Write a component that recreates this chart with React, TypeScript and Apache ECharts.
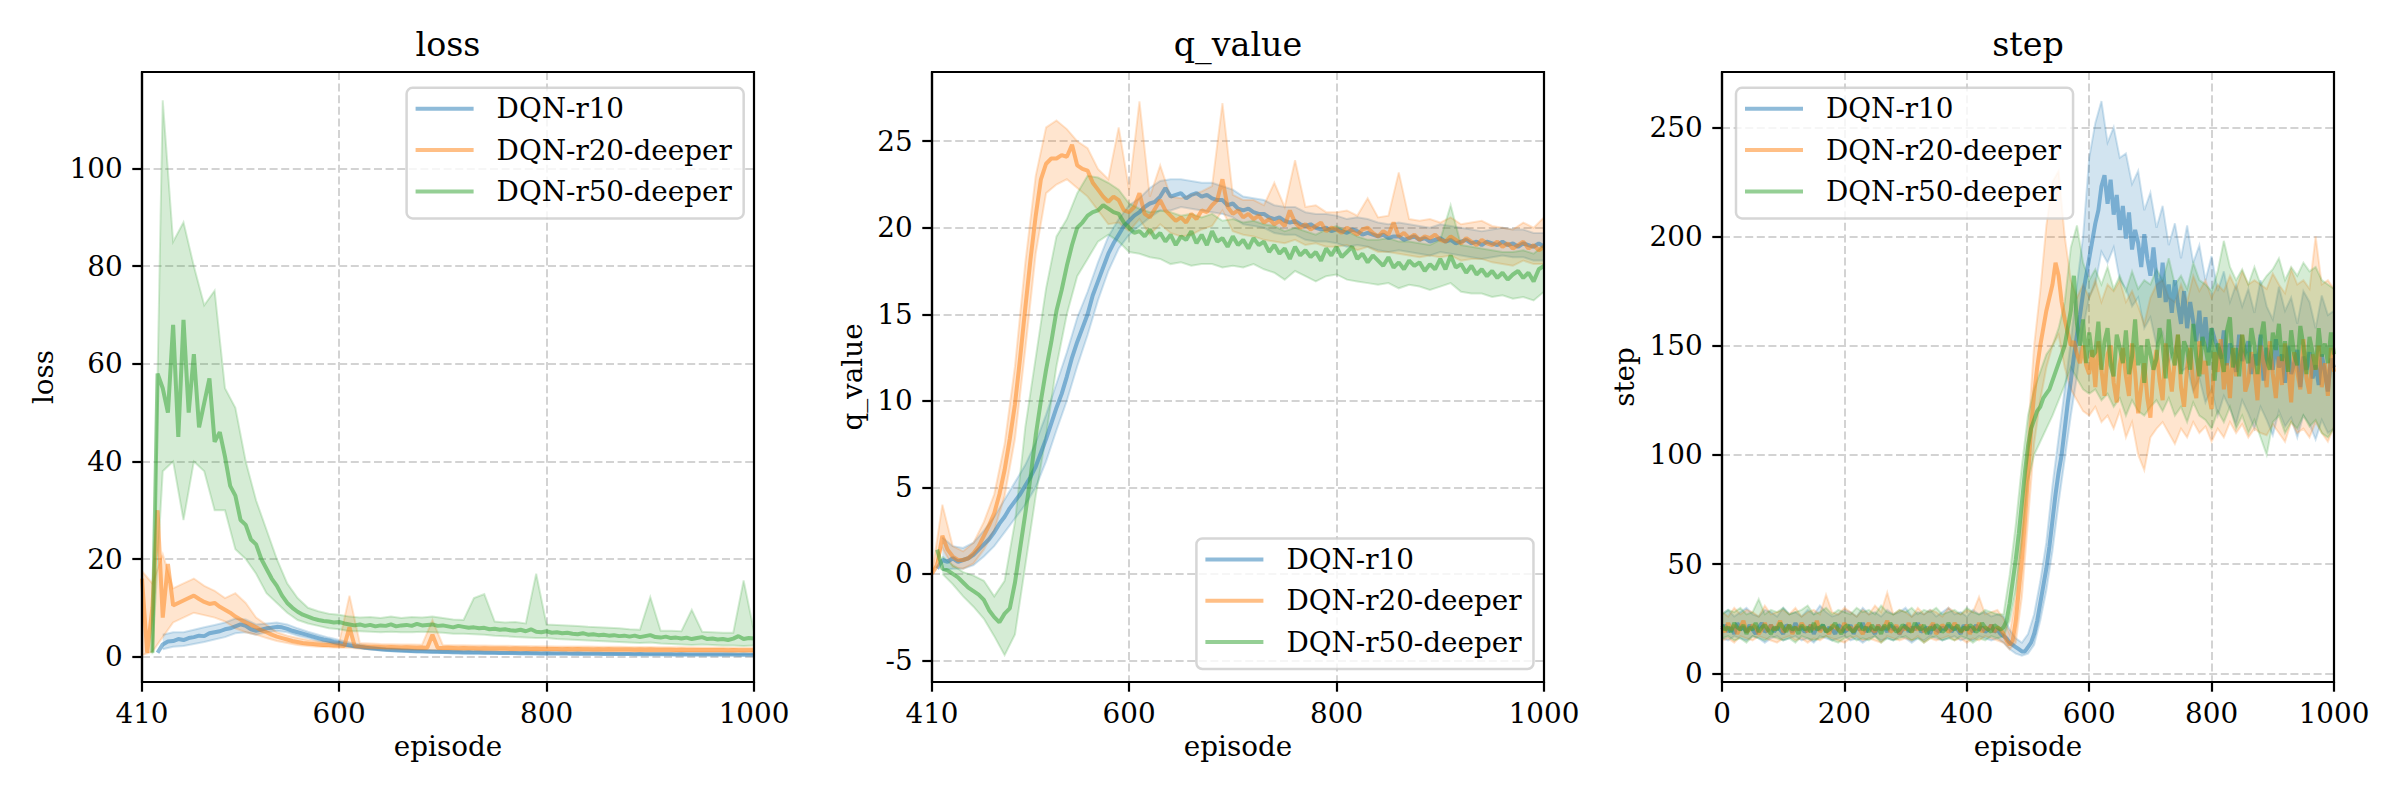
import React, { useEffect, useRef } from 'react';
import * as echarts from 'echarts';

const FONT = '"DejaVu Serif", serif';
const NAMES = ['DQN-r10', 'DQN-r20-deeper', 'DQN-r50-deeper'];
const COLORS = ['#1f77b4', '#ff7f0e', '#2ca02c'];

// episode grids (mean sampled every 5 episodes, band every 10 episodes)
const episodes = (start: number, end: number, step: number) => {
  const out: number[] = [];
  for (let e = start; e <= end; e += step) out.push(e);
  return out;
};
const LOSS_MEAN_X = episodes(410, 1000, 5);
const LOSS_BAND_X = episodes(410, 1000, 10);
const Q_MEAN_X = episodes(410, 1000, 5);
const Q_BAND_X = episodes(410, 1000, 10);
const STEP_MEAN_X = episodes(0, 1000, 5);
const STEP_BAND_X = episodes(0, 1000, 10);

// ---------------- loss ----------------
const LOSS_BLUE = [
  null, null, null, 0.8, 2.5, 3.1, 3.2, 3.6, 3.4, 3.8,
  4.0, 4.3, 4.2, 4.8, 5.0, 5.2, 5.6, 5.8, 6.2, 6.6,
  6.3, 5.6, 5.3, 5.5, 5.8, 5.9, 6.1, 6.0, 5.7, 5.3,
  5.0, 4.7, 4.4, 4.1, 3.8, 3.5, 3.3, 3.0, 2.8, 2.5,
  2.3, 2.1, 2.0, 1.8, 1.7, 1.6, 1.5, 1.4, 1.35, 1.3,
  1.25, 1.2, 1.15, 1.1, 1.1, 1.05, 1.0, 1.0, 0.95, 0.95,
  0.9, 0.9, 0.85, 0.88, 0.82, 0.85, 0.8, 0.78, 0.8, 0.75,
  0.76, 0.72, 0.74, 0.7, 0.72, 0.68, 0.7, 0.66, 0.68, 0.65,
  0.64, 0.66, 0.62, 0.6, 0.62, 0.58, 0.6, 0.57, 0.58, 0.55,
  0.56, 0.54, 0.55, 0.52, 0.53, 0.5, 0.52, 0.49, 0.5, 0.48,
  0.49, 0.47, 0.48, 0.46, 0.47, 0.45, 0.46, 0.44, 0.45, 0.43,
  0.44, 0.42, 0.43, 0.41, 0.42, 0.4, 0.41, 0.4, 0.4,
];
const LOSS_ORANGE = [
  16, 0.8, 10, 30, 8, 19, 10.5, 11, 11.5, 12,
  12.5, 11.8, 11.2, 10.8, 11, 10.2, 9.6, 9.0, 8.2, 7.6,
  7.0, 6.5, 6.0, 5.4, 5.0, 4.5, 4.1, 3.8, 3.5, 3.2,
  3.0, 2.8, 2.7, 2.6, 2.5, 2.4, 2.4, 2.3, 2.3, 2.2,
  6.0, 2.2, 2.1, 2.05, 2.0, 2.0, 1.95, 1.9, 1.95, 1.9,
  1.85, 1.9, 1.85, 1.8, 1.85, 1.8, 4.5, 1.8, 1.75, 1.8,
  1.75, 1.7, 1.75, 1.7, 1.72, 1.68, 1.7, 1.65, 1.68, 1.64,
  1.66, 1.62, 1.65, 1.6, 1.62, 1.58, 1.6, 1.56, 1.58, 1.55,
  1.56, 1.53, 1.55, 1.52, 1.54, 1.5, 1.52, 1.48, 1.5, 1.47,
  1.49, 1.45, 1.47, 1.44, 1.46, 1.43, 1.45, 1.42, 1.44, 1.41,
  1.42, 1.4, 1.41, 1.38, 1.4, 1.37, 1.38, 1.36, 1.37, 1.35,
  1.36, 1.34, 1.35, 1.33, 1.34, 1.32, 1.33, 1.31, 1.3,
];
const LOSS_GREEN = [
  null, null, 0.8, 58, 55, 50, 68, 45, 69, 50,
  62, 47, 52, 57, 44, 46, 41, 35, 33, 28,
  27, 24, 23, 20, 18, 16, 14.5, 12.5, 11, 10,
  9.2, 8.6, 8.2, 7.8, 7.5, 7.3, 7.2, 7.0, 7.1, 6.8,
  6.6, 6.4, 6.6, 6.3, 6.5, 6.2, 6.4, 6.3, 6.6, 6.2,
  6.4, 6.5, 6.3, 6.7, 6.4, 6.5, 6.6, 6.3, 6.4, 6.2,
  6.0, 6.3, 6.1, 5.9, 6.0, 5.8, 5.9, 5.6, 5.7, 5.5,
  5.6, 5.4, 5.3, 5.5, 5.2, 5.6, 5.1, 5.0, 5.2, 4.9,
  5.0, 4.8, 4.9, 4.7, 4.6, 4.8, 4.5, 4.6, 4.4, 4.5,
  4.3, 4.4, 4.2, 4.3, 4.1, 4.3, 4.0, 4.2, 4.4, 4.0,
  3.9, 4.1, 3.8, 3.9, 3.7, 3.9, 3.6, 3.8, 4.0, 3.6,
  3.7, 3.5, 3.6, 3.4, 3.7, 4.2, 3.6, 3.8, 3.7,
];
const LOSS_BLUE_LO = [
  null, null, 1.5, 2.0, 2.2, 2.6, 3.0, 3.5, 4.0, 4.8, 5.0, 4.5,
  5.0, 5.3, 5.0, 4.3, 3.8, 3.2, 2.8, 2.3, 2.0, 1.7,
  1.45, 1.25, 1.1, 1.0, 0.9, 0.85, 0.78, 0.72, 0.68, 0.64,
  0.6, 0.58, 0.55, 0.53, 0.5, 0.48, 0.46, 0.45, 0.43, 0.42,
  0.4, 0.39, 0.38, 0.36, 0.35, 0.34, 0.33, 0.32, 0.31, 0.3,
  0.3, 0.29, 0.28, 0.28, 0.27, 0.27, 0.26, 0.26,
];
const LOSS_BLUE_HI = [
  null, null, 4.5, 5.0, 5.0, 5.5, 6.0, 6.5, 7.0, 7.8, 7.6, 6.6,
  6.8, 7.0, 6.6, 5.8, 5.1, 4.5, 3.9, 3.4, 2.9, 2.5,
  2.1, 1.85, 1.7, 1.55, 1.45, 1.38, 1.3, 1.22, 1.18, 1.12,
  1.08, 1.05, 1.02, 0.98, 0.96, 0.94, 0.92, 0.9, 0.87, 0.85,
  0.83, 0.81, 0.8, 0.78, 0.76, 0.74, 0.72, 0.71, 0.7, 0.68,
  0.67, 0.66, 0.64, 0.63, 0.62, 0.61, 0.6, 0.58,
];
const LOSS_ORANGE_LO = [
  0.3, 1.0, 4.0, 7.0, 8.0, 9.0, 8.5, 8.0, 7.2, 5.8,
  5.0, 4.5, 3.8, 3.2, 2.8, 2.4, 2.2, 2.0, 1.9, 1.8,
  1.8, 1.6, 1.5, 1.5, 1.45, 1.4, 1.38, 1.35, 1.35, 1.3,
  1.28, 1.26, 1.24, 1.22, 1.2, 1.18, 1.16, 1.14, 1.12, 1.1,
  1.08, 1.07, 1.06, 1.04, 1.03, 1.02, 1.0, 0.99, 0.98, 0.97,
  0.96, 0.95, 0.94, 0.93, 0.92, 0.91, 0.9, 0.9, 0.89, 0.88,
];
const LOSS_ORANGE_HI = [
  17.5, 15, 21, 14, 15, 16, 14.5, 13.5, 12, 13,
  11, 8.0, 6.5, 5.0, 4.3, 3.8, 3.4, 3.1, 3.0, 2.9,
  12.5, 2.8, 2.7, 2.6, 2.55, 2.5, 2.5, 2.45, 7.5, 2.4,
  2.35, 2.35, 2.3, 2.3, 2.25, 2.25, 2.2, 2.2, 2.15, 2.15,
  2.1, 2.1, 2.08, 2.06, 2.04, 2.02, 2.0, 1.98, 1.96, 1.95,
  1.94, 1.92, 1.9, 1.9, 1.88, 1.86, 1.85, 1.84, 1.82, 1.8,
];
const LOSS_GREEN_LO = [
  null, 0.5, 38, 40, 28, 40, 38, 30, 30, 22,
  20, 17, 13, 11, 9, 7.5, 6.8, 6.3, 5.8, 5.6,
  5.2, 5.2, 5.1, 5.0, 5.1, 5.0, 5.0, 5.1, 5.0, 4.9,
  4.7, 4.7, 4.6, 4.5, 4.3, 4.2, 4.0, 3.9, 3.8, 3.8,
  3.6, 3.5, 3.4, 3.3, 3.2, 3.1, 3.0, 2.9, 2.8, 2.9,
  2.7, 2.6, 2.5, 2.4, 2.5, 2.4, 2.3, 2.3, 2.2, 2.3,
];
const LOSS_GREEN_HI = [
  null, 1.0, 114, 85, 89, 80, 72, 75, 55, 51,
  40, 32, 26, 20, 15, 12, 10, 9.3, 8.8, 8.6,
  8.2, 8.0, 8.1, 7.9, 8.2, 7.9, 8.1, 8.0, 8.2, 7.9,
  7.6, 7.5, 12.0, 12.8, 7.2, 7.0, 7.1, 6.8, 17.0, 6.6,
  6.5, 6.4, 6.3, 6.1, 6.0, 5.9, 5.8, 5.6, 5.5, 12.2,
  5.3, 5.3, 5.2, 9.6, 5.1, 5.0, 4.9, 4.9, 15.6, 5.2,
];

// ---------------- q_value ----------------
const Q_BLUE = [
  null, 0.3, 0.8, 0.7, 0.9, 0.7, 0.8, 0.9, 1.1, 1.4,
  1.7, 2.0, 2.4, 2.9, 3.3, 3.8, 4.2, 4.6, 5.1, 5.6,
  6.2, 7.0, 7.8, 8.7, 9.6, 10.4, 11.4, 12.5, 13.4, 14.2,
  15.0, 16.1, 16.9, 17.7, 18.5, 19.1, 19.6, 20.1, 20.4, 20.7,
  20.9, 21.2, 21.4, 21.5, 21.8, 22.3, 21.8, 21.9, 22.0, 21.7,
  21.9, 22.0, 21.8, 21.9, 21.7, 21.6, 21.6, 21.3, 21.4, 21.1,
  21.0, 21.1, 20.9, 20.8, 20.8, 20.6, 20.5, 20.6, 20.4, 20.3,
  20.4, 20.2, 20.1, 20.2, 20.0, 19.9, 20.0, 19.8, 19.9, 19.8,
  19.7, 19.9, 19.8, 19.6, 19.7, 19.6, 19.5, 19.6, 19.4, 19.5,
  19.5, 19.3, 19.4, 19.5, 19.3, 19.4, 19.2, 19.3, 19.4, 19.2,
  19.3, 19.1, 19.2, 19.3, 19.1, 19.2, 19.0, 19.2, 19.1, 19.0,
  19.2, 19.0, 19.1, 18.9, 19.1, 19.0, 18.9, 19.1, 18.9,
];
const Q_ORANGE = [
  0, 0.5, 2.2, 1.4, 1.0, 0.8, 0.8, 0.9, 1.2, 1.6,
  2.2, 2.8, 3.5, 4.6, 6.0, 7.8, 9.8, 12.5, 15.4, 18.2,
  20.7, 22.8, 23.7, 24.0, 24.0, 24.2, 24.1, 24.8, 23.6, 23.4,
  23.3, 22.6, 22.2, 21.8, 21.5, 21.8, 21.6, 21.0, 20.9, 21.2,
  22.0, 20.8, 20.6, 21.1, 21.6, 21.0, 20.7, 20.4, 20.6, 20.3,
  20.8, 20.5, 21.0, 20.9, 21.3, 21.6, 22.8, 21.2, 20.8, 21.0,
  20.6, 20.8, 20.5, 20.7, 20.3, 20.5, 20.2, 20.4, 20.1, 21.0,
  20.3, 20.0, 20.2, 19.9, 20.1, 20.3, 19.8, 20.0, 19.9, 19.7,
  20.0, 19.8, 19.6, 19.9, 20.0, 19.7, 19.5, 19.8, 19.6, 20.3,
  19.5, 19.7, 19.4, 19.6, 19.3, 19.5, 19.4, 19.6, 19.3, 19.2,
  19.5, 19.3, 19.1, 19.4, 19.2, 19.0, 19.3, 19.1, 19.0, 19.2,
  18.9, 19.1, 18.8, 19.0, 19.2, 18.8, 19.0, 18.7, 18.9,
];
const Q_GREEN = [
  null, 1.4, 0.3, 0.2, 0.0, -0.2, -0.5, -0.8, -1.0, -1.2,
  -1.5, -2.1, -2.5, -2.8, -2.3, -2.0, -0.5, 1.5, 3.5, 5.6,
  8.0, 10.0, 11.8, 13.4, 15.2, 16.4, 17.8, 19.0, 20.0, 20.3,
  20.7, 20.9, 21.0, 21.3, 21.1, 20.9, 20.8, 20.3, 20.0, 19.7,
  19.8, 19.5, 19.9, 19.4, 19.7, 19.2, 19.6, 19.0, 19.5, 19.3,
  19.8, 19.1, 19.6, 19.0, 19.8, 19.2, 19.4, 18.9, 19.5, 19.0,
  19.3, 18.8, 19.4, 19.0, 19.2, 18.6, 19.0, 18.5, 18.8, 18.2,
  18.9, 18.4, 18.7, 18.3, 18.6, 18.1, 18.8, 18.4, 18.9, 18.3,
  18.6, 18.9, 18.2, 18.5, 18.0, 18.4, 18.1, 17.8, 18.3, 17.7,
  18.0, 17.6, 18.1, 17.8, 18.0, 17.5, 17.9, 17.6, 18.2, 17.6,
  18.4, 17.7, 17.9, 17.4, 17.8, 17.3, 17.6, 17.2, 17.5, 17.1,
  17.4, 17.0, 17.3, 17.5, 17.1, 17.4, 16.9, 17.6, 17.8,
];
const Q_BLUE_LO = [
  null, 0.2, 0.3, 0.3, 0.5, 1.0, 1.6, 2.4, 3.2, 4.0,
  5.0, 6.5, 8.3, 10.0, 12.0, 13.8, 15.8, 17.5, 18.8, 19.6,
  20.1, 20.6, 21.0, 21.0, 21.2, 21.1, 21.0, 20.9, 20.8, 20.6,
  20.2, 20.1, 20.0, 19.7, 19.6, 19.6, 19.3, 19.2, 19.2, 19.1,
  18.9, 19.0, 18.9, 18.7, 18.6, 18.7, 18.6, 18.5, 18.4, 18.6,
  18.5, 18.4, 18.3, 18.2, 18.3, 18.4, 18.3, 18.3, 18.1, 18.1,
];
const Q_BLUE_HI = [
  null, 2.1, 1.6, 1.5, 1.8, 2.5, 3.3, 4.3, 5.3, 6.3,
  7.6, 9.2, 11.0, 12.8, 14.8, 16.3, 18.0, 19.5, 20.5, 21.3,
  21.7, 22.3, 22.7, 22.8, 22.8, 22.7, 22.6, 22.6, 22.4, 22.2,
  21.8, 21.7, 21.6, 21.3, 21.2, 21.2, 20.9, 20.8, 20.8, 20.7,
  20.5, 20.6, 20.5, 20.3, 20.2, 20.3, 20.2, 20.1, 20.0, 20.2,
  20.1, 20.0, 19.9, 19.8, 19.9, 20.0, 19.9, 19.9, 19.7, 19.7,
];
const Q_ORANGE_LO = [
  0, 1.5, 0.4, 0.3, 0.6, 1.4, 2.5, 4.5, 7.8, 13,
  18.5, 22, 22.5, 22.8, 22.3, 21.8, 21, 20.2, 20.3, 19.8,
  20.5, 19.6, 20.2, 19.7, 19.5, 19.6, 19.9, 20.1, 21, 19.8,
  19.6, 19.5, 19.3, 19.2, 19.1, 19.3, 19.0, 19.1, 18.9, 18.9,
  19.0, 18.7, 18.9, 18.6, 18.6, 18.5, 18.4, 18.3, 18.4, 18.3,
  18.4, 18.1, 18.2, 18.2, 18.0, 17.9, 17.8, 18.1, 17.9, 17.9,
];
const Q_ORANGE_HI = [
  0, 4.0, 1.6, 1.3, 1.8, 3.0, 4.6, 7.5, 12, 18,
  23, 25.8, 26.2, 25.7, 25, 24.6, 23.4, 22.8, 25.8, 22.2,
  27.3, 21.8, 23.6, 21.8, 21.7, 21.9, 22.1, 22.4, 27.2, 21.9,
  21.6, 21.6, 21.3, 22.6, 21.2, 23.9, 21.2, 21.3, 20.9, 20.9,
  21.0, 20.7, 21.7, 20.6, 20.7, 23.2, 20.5, 20.4, 20.5, 20.3,
  20.6, 20.2, 20.3, 20.4, 20.1, 20.0, 19.9, 20.3, 20.0, 20.6,
];
const Q_GREEN_LO = [
  null, 0.0, -0.6, -1.3, -1.9, -2.6, -3.6, -4.7, -3.5, 0.5,
  4.5, 8.0, 12.0, 15.0, 17.2, 18.2, 19.2, 19.6, 19.2, 18.6,
  18.5, 18.3, 18.2, 17.9, 18.0, 17.8, 17.9, 17.9, 17.7, 17.8,
  17.7, 17.9, 17.6, 17.4, 17.0, 17.5, 17.2, 16.9, 17.2, 17.3,
  17.0, 16.9, 16.8, 16.7, 16.8, 16.5, 16.7, 16.6, 16.4, 16.6,
  16.8, 16.3, 16.2, 16.2, 16.0, 16.1, 15.9, 16.0, 15.8, 16.3,
];
const Q_GREEN_HI = [
  null, 1.0, 0.5, 0.1, -0.1, -0.4, -1.3, -0.4, 3.0, 8.5,
  12.5, 16.5, 19.5, 20.5, 22.0, 23.0, 22.9, 22.6, 22.2, 21.4,
  21.1, 20.9, 21.0, 20.9, 20.7, 20.8, 20.6, 20.8, 20.4, 20.5,
  20.3, 20.4, 20.2, 20.1, 19.8, 20.0, 19.8, 19.6, 19.9, 20.1,
  19.8, 19.5, 19.3, 19.3, 19.4, 19.2, 19.2, 19.1, 19.0, 19.3,
  21.3, 19.0, 18.9, 18.8, 18.7, 18.6, 18.6, 18.7, 18.5, 19.0,
];

// ---------------- step ----------------
const STEP_BLUE = [
  20, 22, 19, 21, 18, 23, 20, 21, 19, 22, 20, 18, 21, 23, 19, 20, 22, 19, 21, 20,
  18, 22, 21, 19, 23, 20, 21, 19, 20, 22, 18, 21, 20, 22, 19, 21, 20, 18, 22, 21,
  19, 20, 22, 18, 21, 20, 23, 19, 21, 20, 18, 22, 20, 21, 19, 22, 20, 21, 18, 20,
  22, 19, 21, 20, 23, 19, 20, 21, 18, 22, 20, 19, 21, 20, 22, 19, 21, 20, 18, 22,
  20, 21, 19, 22, 20, 21, 19, 20, 22, 19, 20, 18,
  17, 16, 14, 13, 12, 11, 10, 10, 12, 14,
  18, 24, 32, 40, 48, 58, 70, 82, 92, 100,
  112, 124, 134, 145, 155, 164, 174, 182, 190, 198,
  206, 212, 223, 228, 215, 226, 210, 219, 203, 214,
  199, 211, 194, 203, 197, 186, 201, 190, 182, 195,
  181, 172, 188, 170, 178, 165, 180, 169, 160, 175,
  158, 170, 161, 152, 166, 150, 163, 147, 158, 153,
  149, 144, 157, 141, 151, 146, 138, 155, 143, 147,
  152, 137, 146, 141, 155, 134, 149, 143, 139, 153,
  140, 146, 133, 150, 137, 142, 148, 131, 145, 139,
  147, 135, 141, 132, 146, 138, 129, 144, 140,
];
const STEP_ORANGE = [
  21, 19, 23, 20, 22, 18, 21, 24, 19, 20, 22, 21, 18, 20, 23, 19, 22, 20, 21, 24,
  19, 20, 22, 18, 21, 20, 23, 21, 19, 22, 20, 24, 19, 21, 20, 18, 22, 21, 20, 19,
  23, 20, 21, 19, 22, 20, 18, 21, 23, 20, 19, 22, 20, 21, 24, 19, 20, 22, 18, 21,
  20, 23, 19, 21, 20, 22, 19, 20, 21, 23, 18, 20, 22, 21, 19, 20, 23, 21, 19, 20,
  22, 18, 21, 20, 23, 19, 21, 20, 22, 19, 21, 20,
  18, 15, 13, 15, 24, 38, 52, 70, 90, 112,
  128, 140, 150, 158, 166, 172, 178, 188, 182, 170,
  162, 156, 150, 152, 146, 142, 150, 141, 137, 148,
  131, 152, 139, 127, 146, 150, 133, 124, 141, 149,
  136, 127, 151, 138, 119, 131, 142, 126, 117, 139,
  148, 134, 125, 151, 140, 129, 144, 155, 131, 122,
  140, 149, 133, 126, 152, 137, 143, 128, 121, 147,
  138, 153, 130, 142, 126, 149, 136, 144, 155, 129,
  134, 147, 139, 125, 150, 143, 131, 152, 137, 126,
  145, 132, 151, 140, 124, 147, 138, 130, 153, 135,
  128, 146, 139, 150, 131, 142, 127, 149, 138,
];
const STEP_GREEN = [
  22, 20, 21, 19, 23, 21, 20, 22, 18, 21, 20, 23, 19, 21, 22, 20, 18, 21, 20, 23,
  21, 19, 22, 20, 21, 18, 22, 20, 21, 19, 23, 20, 21, 22, 19, 20, 21, 23, 20, 18,
  21, 22, 20, 19, 21, 23, 20, 21, 19, 22, 20, 21, 18, 22, 20, 23, 21, 19, 20, 22,
  21, 20, 19, 23, 21, 20, 22, 18, 21, 20, 22, 21, 19, 20, 23, 21, 20, 22, 19, 21,
  20, 22, 21, 19, 20, 23, 21, 20, 19, 22, 21, 20,
  21, 24, 32, 42, 52, 64, 78, 92, 104, 112,
  116, 120, 122, 126, 128, 130, 134, 138, 142, 146,
  150, 158, 166, 182, 160, 150, 162, 142, 156, 145,
  147, 161, 139, 152, 158, 141, 136, 155, 149, 142,
  157, 137, 145, 162, 141, 150, 133, 153, 146, 139,
  144, 158, 150, 135, 162, 147, 141, 155, 137, 152,
  148, 139, 160, 145, 136, 154, 149, 141, 158, 134,
  151, 146, 138, 157, 163, 140, 149, 136, 155, 147,
  142, 158, 150, 137, 153, 161, 144, 139, 156, 148,
  160, 143, 152, 138, 157, 146, 141, 159, 150, 137,
  154, 147, 139, 158, 145, 151, 142, 156, 146,
];
const STEP_BLUE_LO = [
  16, 15, 17, 16, 15, 17, 16, 14, 16, 17, 15, 16, 17, 15, 16, 14, 17, 16, 15, 16,
  17, 15, 16, 14, 16, 17, 15, 16, 15, 17, 16, 14, 16, 15, 17, 16, 15, 16, 17, 15,
  16, 15, 17, 16, 15, 16,
  14, 11, 9, 8, 9, 13, 24, 38, 56, 78,
  98, 118, 136, 158, 172, 178, 193, 188, 195, 180,
  176, 168, 172, 158, 163, 150, 156, 142, 149, 138,
  140, 129, 135, 124, 130, 118, 127, 121, 114, 125,
  119, 112, 122, 116, 109, 120, 113, 117, 108, 118,
  114, 107, 116, 110, 112,
];
const STEP_BLUE_HI = [
  27, 29, 26, 28, 30, 27, 26, 29, 28, 26, 30, 27, 28, 26, 29, 27, 31, 28, 26, 27,
  29, 28, 26, 30, 27, 28, 26, 29, 27, 28, 30, 26, 28, 27, 29, 26, 28, 30, 27, 28,
  26, 29, 27, 28, 26, 27,
  26, 20, 16, 14, 18, 27, 42, 60, 86, 108,
  130, 152, 178, 200, 236, 252, 262, 243, 250, 236,
  238, 224, 230, 212, 220, 204, 214, 196, 206, 190,
  205, 188, 196, 180, 191, 175, 184, 170, 178, 168,
  176, 165, 180, 168, 162, 177, 166, 172, 160, 175,
  170, 158, 173, 164, 166,
];
const STEP_ORANGE_LO = [
  15, 16, 14, 17, 16, 15, 17, 16, 15, 14, 16, 17, 15, 16, 14, 16, 15, 17, 16, 15,
  14, 16, 17, 15, 16, 15, 14, 17, 16, 15, 16, 15, 17, 14, 16, 15, 16, 17, 15, 16,
  14, 16, 15, 17, 16, 15,
  14, 11, 14, 35, 70, 105, 125, 140, 150, 155,
  140, 130, 125, 120, 118, 122, 115, 118, 112, 120,
  108, 115, 100, 93, 108, 112, 115, 110, 105, 112,
  108, 115, 110, 113, 106, 112, 108, 115, 110, 114,
  108, 112, 110, 109, 114, 110, 106, 115, 110, 112,
  108, 115, 110, 106, 113,
];
const STEP_ORANGE_HI = [
  28, 26, 30, 27, 29, 28, 26, 31, 27, 28, 29, 27, 30, 26, 28, 29, 27, 36, 28, 27,
  30, 28, 26, 29, 27, 31, 28, 37, 27, 29, 28, 26, 30, 27, 29, 28, 26, 30, 28, 27,
  29, 28, 35, 27, 28, 29,
  25, 18, 35, 70, 110, 150, 175, 205, 225, 230,
  200, 180, 172, 178, 172, 180, 170, 178, 175, 180,
  170, 175, 168, 160, 172, 178, 180, 172, 170, 178,
  170, 182, 175, 180, 172, 178, 175, 182, 176, 184,
  178, 180, 178, 176, 183, 178, 174, 185, 178, 180,
  176, 200, 178, 180, 176,
];
const STEP_GREEN_LO = [
  16, 17, 15, 16, 14, 17, 16, 15, 17, 16, 15, 16, 14, 17, 16, 15, 16, 17, 15, 14,
  16, 17, 15, 16, 15, 17, 14, 16, 15, 16, 17, 15, 16, 14, 16, 17, 15, 16, 15, 17,
  16, 14, 16, 15, 17, 16,
  17, 24, 38, 60, 88, 100, 106, 112, 118, 125,
  132, 140, 135, 130, 128, 130, 125, 128, 122, 126,
  118, 125, 120, 118, 122, 125, 120, 126, 118, 122,
  115, 124, 118, 116, 112, 120, 115, 122, 112, 118,
  110, 116, 108, 100, 115, 118, 110, 115, 112, 118,
  113, 116, 110, 108, 112,
];
const STEP_GREEN_HI = [
  27, 29, 28, 30, 27, 28, 34, 27, 29, 28, 30, 27, 28, 29, 31, 27, 28, 30, 27, 29,
  28, 27, 30, 28, 29, 27, 31, 28, 27, 29, 28, 30, 27, 29, 28, 30, 27, 28, 29, 27,
  30, 28, 27, 29, 28, 27,
  27, 45, 68, 95, 118, 130, 138, 146, 150, 158,
  170, 195, 205, 188, 180, 185, 178, 186, 176, 182,
  175, 184, 176, 180, 178, 185, 180, 190, 178, 182,
  176, 188, 180, 178, 175, 184, 198, 186, 180, 185,
  178, 186, 178, 182, 185, 190, 180, 186, 182, 188,
  184, 186, 180, 178, 176,
];

const PANELS = [
  {
    title: 'loss', left: 142, xMin: 410, xMax: 1000, xTicks: [410, 600, 800, 1000],
    yMin: -5.2, yMax: 119.8, yTicks: [0, 20, 40, 60, 80, 100], yNameGap: 99,
    meanX: LOSS_MEAN_X, bandX: LOSS_BAND_X,
    means: [LOSS_BLUE, LOSS_ORANGE, LOSS_GREEN],
    lows: [LOSS_BLUE_LO, LOSS_ORANGE_LO, LOSS_GREEN_LO],
    highs: [LOSS_BLUE_HI, LOSS_ORANGE_HI, LOSS_GREEN_HI],
    legendLeft: 406.6, legendTop: 87.8,
  },
  {
    title: 'q_value', left: 932, xMin: 410, xMax: 1000, xTicks: [410, 600, 800, 1000],
    yMin: -6.25, yMax: 29.0, yTicks: [-5, 0, 5, 10, 15, 20, 25], yNameGap: 80,
    meanX: Q_MEAN_X, bandX: Q_BAND_X,
    means: [Q_BLUE, Q_ORANGE, Q_GREEN],
    lows: [Q_BLUE_LO, Q_ORANGE_LO, Q_GREEN_LO],
    highs: [Q_BLUE_HI, Q_ORANGE_HI, Q_GREEN_HI],
    legendLeft: 1196.4, legendTop: 538.4,
  },
  {
    title: 'step', left: 1722, xMin: 0, xMax: 1000, xTicks: [0, 200, 400, 600, 800, 1000],
    yMin: -4, yMax: 275.3, yTicks: [0, 50, 100, 150, 200, 250], yNameGap: 98,
    meanX: STEP_MEAN_X, bandX: STEP_BAND_X,
    means: [STEP_BLUE, STEP_ORANGE, STEP_GREEN],
    lows: [STEP_BLUE_LO, STEP_ORANGE_LO, STEP_GREEN_LO],
    highs: [STEP_BLUE_HI, STEP_ORANGE_HI, STEP_GREEN_HI],
    legendLeft: 1736, legendTop: 87.8,
  },
];

const GRID_TOP = 72;
const GRID_W = 612;
const GRID_H = 610;

function rgba(hex: string, a: number) {
  const n = parseInt(hex.slice(1), 16);
  return `rgba(${(n >> 16) & 255},${(n >> 8) & 255},${n & 255},${a})`;
}

function buildOption() {
  const series: any[] = [];
  // bands first (matplotlib draws fills below lines)
  PANELS.forEach((p, i) => {
    COLORS.forEach((c, k) => {
      const band: number[][] = [];
      p.bandX.forEach((x, j) => {
        const lo = p.lows[k][j];
        const hi = p.highs[k][j];
        if (lo != null && hi != null) band.push([x, lo, hi]);
      });
      series.push({
        type: 'custom',
        name: `band-${i}-${k}`,
        xAxisIndex: i,
        yAxisIndex: i,
        data: band,
        encode: { x: 0, y: [1, 2] },
        silent: true,
        clip: true,
        z: 2,
        renderItem: (params: any, api: any) => {
          if (params.dataIndex !== 0) return null;
          const top = band.map((d) => api.coord([d[0], d[2]]));
          const bot = band.map((d) => api.coord([d[0], d[1]]));
          return {
            type: 'group',
            children: [
              { type: 'polygon', shape: { points: top.concat(bot.slice().reverse()) }, style: { fill: rgba(c, 0.2), stroke: null } },
              { type: 'polyline', shape: { points: top }, style: { stroke: rgba(c, 0.2), lineWidth: 2, fill: null } },
              { type: 'polyline', shape: { points: bot }, style: { stroke: rgba(c, 0.2), lineWidth: 2, fill: null } },
            ],
          };
        },
      });
    });
  });
  PANELS.forEach((p, i) => {
    COLORS.forEach((c, k) => {
      const pts: number[][] = [];
      p.meanX.forEach((x, j) => {
        const v = p.means[k][j];
        if (v != null) pts.push([x, v]);
      });
      series.push({
        type: 'line',
        name: NAMES[k],
        xAxisIndex: i,
        yAxisIndex: i,
        data: pts,
        showSymbol: false,
        symbol: 'none',
        silent: true,
        z: 3,
        lineStyle: { width: 4, color: rgba(c, 0.5) },
        itemStyle: { color: rgba(c, 0.5) },
        emphasis: { disabled: true },
      });
    });
  });

  const axisText = { fontFamily: FONT, fontSize: 27.8, color: '#000' };
  const splitLine = { show: true, lineStyle: { color: '#d3d3d3', width: 2, type: [8, 3.6] } };
  const plain = (v: number) => String(v);

  return {
    animation: false,
    backgroundColor: '#ffffff',
    textStyle: { fontFamily: FONT },
    title: PANELS.map((p) => ({
      text: p.title,
      left: p.left + GRID_W / 2,
      top: 44.6,
      textAlign: 'center',
      textVerticalAlign: 'middle',
      padding: 0,
      textStyle: { fontFamily: FONT, fontSize: 33.3, fontWeight: 'normal', color: '#000' },
    })),
    grid: PANELS.map((p) => ({
      left: p.left, top: GRID_TOP, width: GRID_W, height: GRID_H,
      show: true, borderColor: '#000', borderWidth: 2.2, backgroundColor: 'transparent',
      z: 10,
    })),
    xAxis: PANELS.map((p, i) => ({
      type: 'value', gridIndex: i, min: p.xMin, max: p.xMax,
      name: 'episode', nameLocation: 'middle', nameGap: 64.4,
      nameTextStyle: { ...axisText, verticalAlign: 'middle' },
      axisLine: { show: true, onZero: false, lineStyle: { color: '#000', width: 2.2 } },
      axisTick: { show: true, inside: false, length: 9.7, lineStyle: { color: '#000', width: 2.2 }, customValues: p.xTicks },
      axisLabel: { ...axisText, customValues: p.xTicks, margin: 31.7, verticalAlign: 'middle', formatter: plain },
      splitLine,
    })),
    yAxis: PANELS.map((p, i) => ({
      type: 'value', gridIndex: i, min: p.yMin, max: p.yMax,
      name: p.title, nameLocation: 'middle', nameGap: p.yNameGap, nameRotate: 90,
      nameTextStyle: { ...axisText, verticalAlign: 'middle', align: 'center' },
      axisLine: { show: true, onZero: false, lineStyle: { color: '#000', width: 2.2 } },
      axisTick: { show: true, inside: false, length: 9.7, lineStyle: { color: '#000', width: 2.2 }, customValues: p.yTicks },
      axisLabel: { ...axisText, customValues: p.yTicks, margin: 19.4, formatter: plain },
      splitLine,
    })),
    legend: PANELS.map((p) => ({
      data: NAMES.map((n, k) => ({ name: n, itemStyle: { color: rgba(COLORS[k], 0.5) } })),
      orient: 'vertical',
      left: p.legendLeft,
      top: p.legendTop,
      icon: 'path://M0,0H58V4H0Z M76,0V4',
      itemWidth: 76,
      itemHeight: 4,
      itemGap: 9.3,
      padding: [5, 12, 11, 9],
      selectedMode: false,
      backgroundColor: 'rgba(255,255,255,0.8)',
      borderColor: 'rgba(204,204,204,0.8)',
      borderWidth: 2.5,
      borderRadius: 6,
      z: 20,
      textStyle: { fontFamily: FONT, fontSize: 27.8, color: '#000', lineHeight: 32 },
    })),
    series,
  };
}

export default function App() {
  const ref = useRef<HTMLDivElement>(null);
  useEffect(() => {
    document.body.style.margin = '0';
    const chart = echarts.init(ref.current!, null, { renderer: 'svg', width: 2400, height: 800 });
    chart.setOption(buildOption() as any);
    return () => chart.dispose();
  }, []);
  return <div ref={ref} style={{ width: 2400, height: 800, background: '#fff' }} />;
}
